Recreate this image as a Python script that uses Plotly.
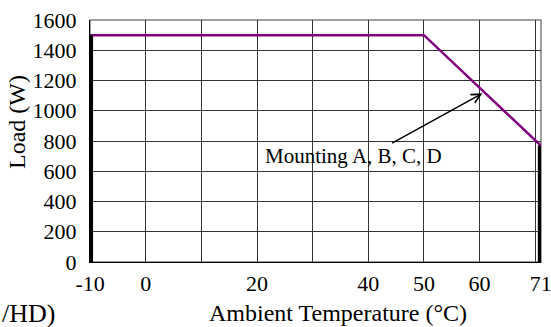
import plotly.graph_objects as go

# Data
temp_c = [-10, 50, 71]
load_w = [1500, 1500, 770]
left_limit_x = [-10, -10]
left_limit_y = [0, 1500]
right_limit_x = [71, 71]
right_limit_y = [0, 770]
x_tick_vals = [-10, 0, 20, 40, 50, 60, 71]
x_tick_text = ["-10", "0", "20", "40", "50", "60", "71"]
y_tick_vals = [0, 200, 400, 600, 800, 1000, 1200, 1400, 1600]
annot_label = "Mounting A, B, C, D"
annot_point = (60.5, 1115)
annot_tail = (44.0, 780)
annot_text_pos = (21.1, 701)

FONT = "Liberation Serif"

fig = go.Figure()
fig.add_trace(go.Scatter(x=temp_c, y=load_w, mode="lines",
                         line=dict(color="#800080", width=2.5), showlegend=False))
fig.add_trace(go.Scatter(x=left_limit_x, y=left_limit_y, mode="lines",
                         line=dict(color="black", width=6), showlegend=False))
fig.add_trace(go.Scatter(x=right_limit_x, y=right_limit_y, mode="lines",
                         line=dict(color="black", width=6), showlegend=False))

fig.update_layout(
    width=551, height=327,
    margin=dict(l=90, r=10, t=20, b=65),
    paper_bgcolor="white", plot_bgcolor="white",
    font=dict(family=FONT, size=22, color="black"),
    xaxis=dict(range=[-10.01, 71.03], tickmode="array", tickvals=x_tick_vals, ticktext=x_tick_text,
               showgrid=False, zeroline=False, showline=True, linecolor="black", linewidth=1,
               ticks="", ticklabelstandoff=2, ticklabeloverflow="allow", automargin=False,
               minor=dict(dtick=10, tick0=0, showgrid=True, gridcolor="#333333", gridwidth=1, ticks="")),
    yaxis=dict(range=[0, 1600], tickmode="array", tickvals=y_tick_vals, automargin=False,
               showgrid=True, gridcolor="#333333", gridwidth=1, zeroline=False,
               showline=True, linecolor="black", linewidth=1, ticks="", ticklabelstandoff=8),
    shapes=[dict(type="rect", xref="paper", yref="paper", x0=0, x1=1, y0=0, y1=1,
                 line=dict(color="#808080", width=1.5), layer="below")],
)

fig.add_annotation(x=annot_point[0], y=annot_point[1], ax=annot_tail[0], ay=annot_tail[1],
                   xref="x", yref="y", axref="x", ayref="y", text="", showarrow=True,
                   arrowhead=5, arrowsize=1.2, arrowwidth=1.5, arrowcolor="black")
fig.add_annotation(x=annot_text_pos[0], y=annot_text_pos[1], xref="x", yref="y",
                   text=annot_label, showarrow=False, xanchor="left", yanchor="middle",
                   font=dict(size=21))
fig.add_annotation(x=(17 - 90) / 451, y=(262 - 122) / 242, xref="paper", yref="paper",
                   text="Load (W)", textangle=-90, showarrow=False,
                   xanchor="center", yanchor="middle", font=dict(size=24))
fig.add_annotation(x=(338 - 90) / 451, y=(262 - 313) / 242, xref="paper", yref="paper",
                   text="Ambient Temperature (°C)", showarrow=False,
                   xanchor="center", yanchor="middle", font=dict(size=24))
fig.add_annotation(x=-90 / 451, y=(262 - 313) / 242, xref="paper", yref="paper",
                   text="/HD)", showarrow=False,
                   xanchor="left", yanchor="middle", font=dict(size=26))

fig.write_html("out.html", config={"displayModeBar": False},
               post_script="document.body.style.margin='0';document.body.style.overflow='hidden';")
